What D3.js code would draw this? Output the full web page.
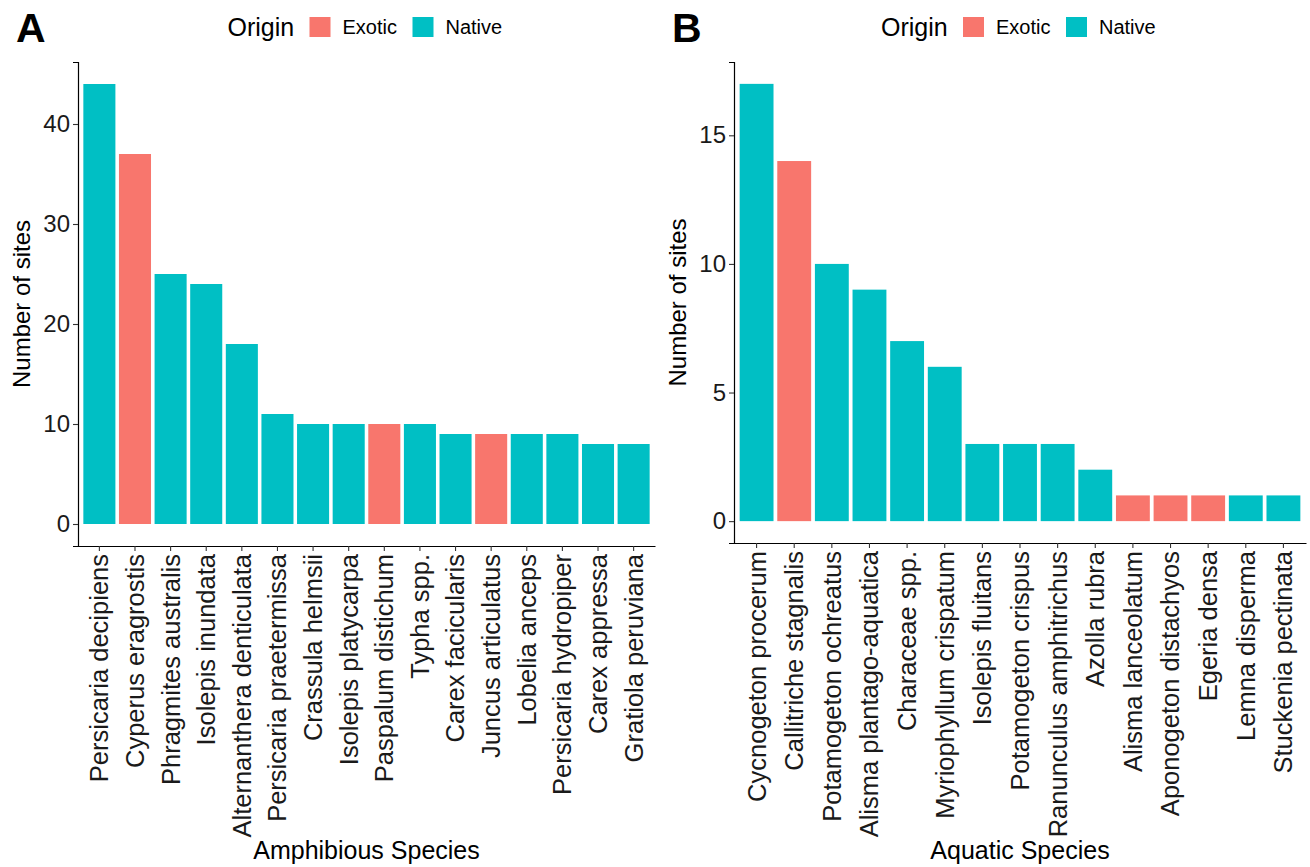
<!DOCTYPE html>
<html>
<head>
<meta charset="utf-8">
<script src="https://cdn.jsdelivr.net/npm/d3@7"></script>
<style>
  body { margin: 0; background: #fff; }
  svg text { font-family: "Liberation Sans", Arial, sans-serif; }
</style>
</head>
<body>
<div id="chart"></div>
<script>
// data
var amphibiousSpecies = ["Persicaria decipiens", "Cyperus eragrostis", "Phragmites australis",
    "Isolepis inundata", "Alternanthera denticulata", "Persicaria praetermissa", "Crassula helmsii",
    "Isolepis platycarpa", "Paspalum distichum", "Typha spp.", "Carex facicularis", "Juncus articulatus",
    "Lobelia anceps", "Persicaria hydropiper", "Carex appressa", "Gratiola peruviana"];
var amphibiousSites = [44, 37, 25, 24, 18, 11, 10, 10, 10, 10, 9, 9, 9, 9, 8, 8];
var amphibiousOrigin = ["Native", "Exotic", "Native", "Native", "Native", "Native", "Native",
    "Native", "Exotic", "Native", "Native", "Exotic", "Native", "Native", "Native", "Native"];

var aquaticSpecies = ["Cycnogeton procerum", "Callitriche stagnalis", "Potamogeton ochreatus",
    "Alisma plantago-aquatica", "Characeae spp.", "Myriophyllum crispatum", "Isolepis fluitans",
    "Potamogeton crispus", "Ranunculus amphitrichus", "Azolla rubra", "Alisma lanceolatum",
    "Aponogeton distachyos", "Egeria densa", "Lemna disperma", "Stuckenia pectinata"];
var aquaticSites = [17, 14, 10, 9, 7, 6, 3, 3, 3, 2, 1, 1, 1, 1, 1];
var aquaticOrigin = ["Native", "Exotic", "Native", "Native", "Native", "Native", "Native",
    "Native", "Native", "Native", "Exotic", "Exotic", "Exotic", "Native", "Native"];

var amphibiousTicks = [0, 10, 20, 30, 40];
var aquaticTicks = [0, 5, 10, 15];

var originLevels = ["Exotic", "Native"];
var color = d3.scaleOrdinal().domain(originLevels).range(["#F8766D", "#00BFC4"]);

var svg = d3.select("#chart")
    .append("svg")
    .attr("width", 1310)
    .attr("height", 867);

function draw(opts) {
    var data = opts.species.map(function (s, i) {
        return {name: s, sites: opts.sites[i], origin: opts.origin[i]};
    });
    var max = d3.max(data, function (d) { return d.sites; });

    var x = d3.scaleBand()
        .domain(opts.species)
        .range([opts.left, opts.right])
        .paddingInner(0.1)
        .paddingOuter(0.15);

    // ggplot style 5% expansion
    var y = d3.scaleLinear()
        .domain([-0.05 * max, max * 1.05])
        .range([opts.bottom, opts.top]);

    var g = svg.append("g");

    // bars
    g.selectAll("rect.bar")
        .data(data)
        .enter()
        .append("rect")
        .attr("class", "bar")
        .attr("x", function (d) { return x(d.name); })
        .attr("width", x.bandwidth())
        .attr("y", function (d) { return y(d.sites); })
        .attr("height", function (d) { return y(0) - y(d.sites); })
        .attr("fill", function (d) { return color(d.origin); });

    // Y axis
    var yAxis = g.append("g")
        .attr("transform", "translate(" + opts.left + ",0)")
        .call(d3.axisLeft(y).tickValues(opts.ticks).tickSize(5).tickPadding(3));
    yAxis.select(".domain").attr("stroke", "#000").attr("stroke-width", 1.2);
    yAxis.selectAll(".tick line").attr("stroke", "#333").attr("stroke-width", 1.1);
    yAxis.selectAll("text")
        .style("font-size", "24px")
        .style("fill", "#1a1a1a");

    // X axis
    var xAxis = g.append("g")
        .attr("transform", "translate(0," + opts.bottom + ")")
        .call(d3.axisBottom(x).tickSize(5).tickSizeOuter(0).tickPadding(3));
    xAxis.select(".domain").attr("stroke", "#000").attr("stroke-width", 1.2);
    xAxis.selectAll(".tick line").attr("stroke", "#333").attr("stroke-width", 1.1);
    xAxis.selectAll("text")
        .attr("transform", "rotate(-90)")
        .attr("x", -8)
        .attr("y", 0)
        .attr("dy", "0.35em")
        .style("text-anchor", "end")
        .style("font-size", "25.5px")
        .style("fill", "#1a1a1a");

    // axis titles
    var cx = (opts.left + opts.right) / 2;
    g.append("text")
        .attr("x", cx)
        .attr("y", 859)
        .attr("text-anchor", "middle")
        .style("font-size", "25px")
        .text(opts.xTitle);

    g.append("text")
        .attr("transform", "translate(" + (opts.left - 48) + "," + ((opts.top + opts.bottom) / 2) + ") rotate(-90)")
        .attr("text-anchor", "middle")
        .style("font-size", "24px")
        .text("Number of sites");

    // panel letter
    g.append("text")
        .attr("x", opts.left - 62)
        .attr("y", 42)
        .style("font-size", "41px")
        .style("font-weight", "bold")
        .text(opts.letter);

    // legend
    var lg = g.append("g")
        .attr("transform", "translate(" + (cx - 139) + ",0)");
    lg.append("text")
        .attr("x", 0)
        .attr("y", 36)
        .style("font-size", "25px")
        .text("Origin");
    var keyX = [82, 185];
    originLevels.forEach(function (o, i) {
        lg.append("rect")
            .attr("x", keyX[i])
            .attr("y", 17)
            .attr("width", 21)
            .attr("height", 20)
            .attr("fill", color(o));
        lg.append("text")
            .attr("x", keyX[i] + 33)
            .attr("y", 34)
            .style("font-size", "20px")
            .text(o);
    });
}

draw({species: amphibiousSpecies, sites: amphibiousSites, origin: amphibiousOrigin,
    ticks: amphibiousTicks, left: 78, right: 655, top: 62, bottom: 546,
    xTitle: "Amphibious Species", letter: "A"});

draw({species: aquaticSpecies, sites: aquaticSites, origin: aquaticOrigin,
    ticks: aquaticTicks, left: 734, right: 1306, top: 62, bottom: 543,
    xTitle: "Aquatic Species", letter: "B"});
</script>
</body>
</html>
